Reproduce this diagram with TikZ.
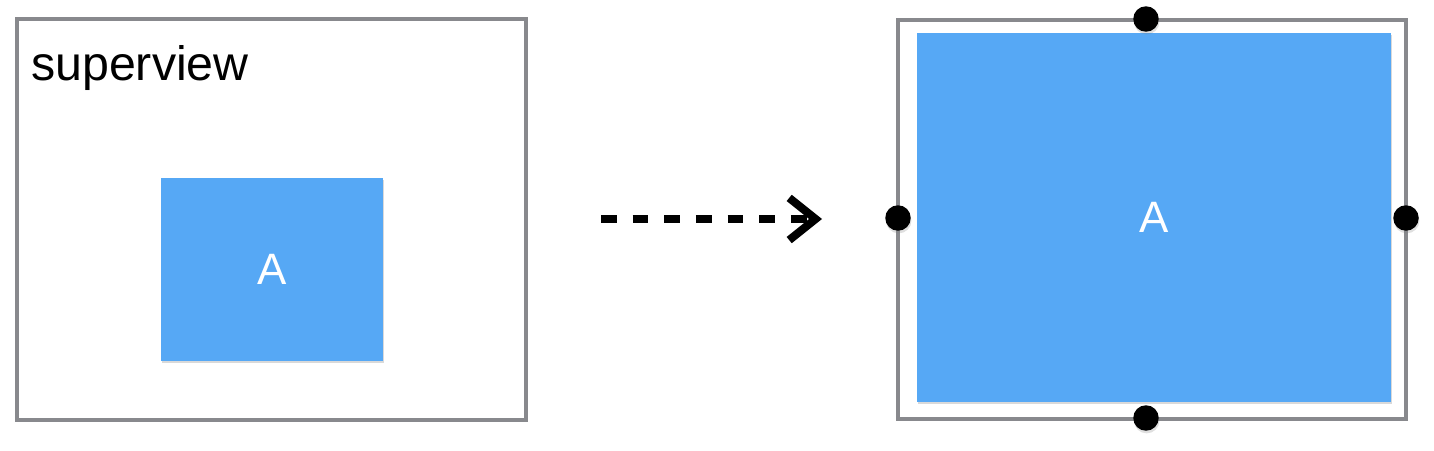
\documentclass[tikz,border=0pt]{standalone}
\usepackage{fontspec}
\setmainfont{Liberation Sans}
\usetikzlibrary{arrows.meta,shadows}
\definecolor{frameGray}{HTML}{88898D}
\definecolor{viewBlue}{HTML}{56A8F5}
\begin{document}
\begin{tikzpicture}[x=0.02cm,y=-0.02cm,
    frame/.style={draw=frameGray,line width=2pt,inner sep=0pt},
    view/.style={fill=viewBlue,text=white,inner sep=0pt,font=\fontsize{25}{28}\selectfont,
      drop shadow={shadow xshift=0.6pt,shadow yshift=-1.2pt,opacity=0.3}},
    handle/.style={circle,fill=black,inner sep=0pt,minimum size=14.5pt,
      drop shadow={shadow xshift=0.4pt,shadow yshift=-1.5pt,opacity=0.25}}]
    \useasboundingbox (0,0) rectangle (1434,450);
    \node[frame,minimum width=10.18cm,minimum height=8.02cm] (super) at (271.5,219.5) {};
    \node[anchor=base west,font=\fontsize{27.5}{30}\selectfont] (superlabel) at (25,80) {superview};
    \node[view,minimum width=4.44cm,minimum height=3.66cm] (small) at (272,269.5) {A};
    \node[frame,minimum width=10.16cm,minimum height=7.98cm] (outer) at (1152,219.5) {};
    \node[view,minimum width=9.48cm,minimum height=7.38cm] (big) at (1154,217.5) {A};
    \node[handle] (top) at (1146,19) {};
    \node[handle] (bottom) at (1146,418) {};
    \node[handle] (left) at (898,218) {};
    \node[handle] (right) at (1406,218) {};
    \coordinate (from) at (601,219);
    \coordinate (to) at (822,219);
    \draw[line width=4pt,dash pattern=on 9pt off 9pt,-{Straight Barb[length=15pt,width=24pt,line width=4.6pt]}] (from) -- (to);
\end{tikzpicture}
\end{document}
